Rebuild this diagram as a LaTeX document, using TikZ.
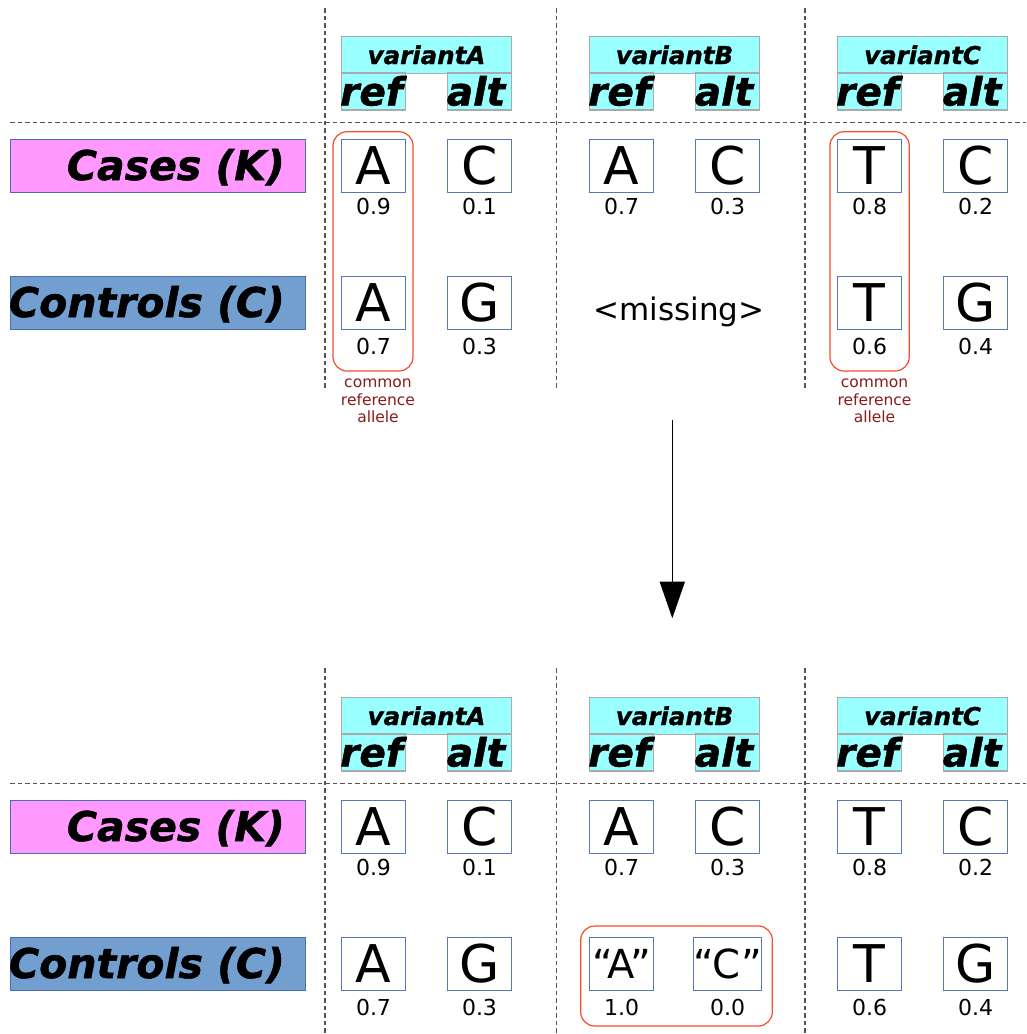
\documentclass[tikz,border=0pt]{standalone}
\usepackage{fontspec}
\setmainfont{DejaVu Sans}
\newfontfamily\heavyfam{DejaVu Sans}[FakeBold=1.2]
\usetikzlibrary{arrows.meta}
\definecolor{hdrcyan}{HTML}{99FFFF}
\definecolor{hdrgray}{HTML}{AAAAAA}
\definecolor{casepink}{HTML}{FF99FF}
\definecolor{ctrlblue}{HTML}{729FCF}
\definecolor{lblborder}{HTML}{4A6FB0}
\definecolor{boxblue}{HTML}{5577BB}
\definecolor{redc}{HTML}{F54C2C}
\definecolor{notered}{HTML}{8B1A1A}
\definecolor{dashgray}{HTML}{555555}
\tikzset{
 divider/.style={draw=dashgray, line width=1.2pt, dash pattern=on 4.5pt off 3pt},
 hdrbox/.style={draw=hdrgray, fill=hdrcyan, line width=1.2pt, inner sep=0pt},
 varfont/.style={font=\heavyfam\bfseries\itshape\fontsize{24.5}{24.5}\selectfont, inner sep=0pt, anchor=base},
 hdrtext/.style={font=\heavyfam\bfseries\itshape\fontsize{39}{39}\selectfont, inner sep=0pt, anchor=base},
 grptext/.style={font=\heavyfam\bfseries\itshape\fontsize{41}{41}\selectfont, inner sep=0pt, anchor=base east},
 grpbox/.style={draw=lblborder, line width=1pt, minimum width=295pt, minimum height=53pt, inner sep=0pt},
 letterbox/.style={draw=boxblue, fill=white, line width=1pt, minimum width=64pt, minimum height=53pt, inner sep=0pt, font=\fontsize{52}{52}\selectfont},
 quotebox/.style={letterbox, font=\fontsize{40}{40}\selectfont},
 freq/.style={font=\fontsize{22}{22}\selectfont, inner sep=0pt},
 redbox/.style={draw=redc, line width=1.2pt, rounded corners=14pt, inner sep=0pt},
 note/.style={font=\fontsize{15.5}{17.5}\selectfont, text=notered, align=center, inner sep=0pt},
 arrowline/.style={draw=black, line width=1.5pt, -{Triangle[width=25pt,length=36.6pt]}},
}
\newcommand\drawpanel[4]{%
 \begin{scope}[shift={(0,#2)}]
  \coordinate (#1-hl) at (10,122.7);
  \coordinate (#1-hr) at (1026,122.7);
  \draw[divider] (#1-hl) -- (#1-hr);
  \foreach \xx [count=\ii] in {325,556.7,805}{
   \coordinate (#1-v\ii a) at (\xx,#3);
   \coordinate (#1-v\ii b) at (\xx,#4);
   \draw[divider] (#1-v\ii a) -- (#1-v\ii b);
  }
  \foreach \vv/\rx in {A/373.5,B/621.5,C/869.5}{
   \node[hdrbox, minimum width=170pt, minimum height=36.5pt] (#1-var\vv) at (\rx+53,55) {};
   \node[varfont] (#1-var\vv t) at (\rx+53,64) {variant\vv};
   \node[hdrbox, minimum width=64pt, minimum height=37pt] (#1-ref\vv) at (\rx,91.5) {};
   \node[hdrbox, minimum width=64pt, minimum height=37pt] (#1-alt\vv) at (\rx+106,91.5) {};
   \node[hdrtext] (#1-ref\vv t) at (\rx-2,105.5) {ref};
   \node[hdrtext] (#1-alt\vv t) at (\rx+102.5,105.5) {alt};
  }
  \node[grpbox, fill=casepink] (#1-casesbox) at (157.5,165.8) {};
  \node[grptext] (#1-cases) at (285,180) {Cases (K)};
  \node[grpbox, fill=ctrlblue] (#1-ctrlbox) at (157.5,303) {};
  \node[grptext] (#1-ctrl) at (285,317) {Controls (C)};
  \foreach \vv/\rx/\refl/\altl/\fref/\falt in {A/373.5/A/C/0.9/0.1, B/621.5/A/C/0.7/0.3, C/869.5/T/C/0.8/0.2}{
   \node[letterbox] (#1-k\vv r) at (\rx,165.8) {\refl};
   \node[letterbox] (#1-k\vv a) at (\rx+106,165.8) {\altl};
   \node[freq] (#1-k\vv rf) at (\rx,206.5) {\fref};
   \node[freq] (#1-k\vv af) at (\rx+106,206.5) {\falt};
  }
  \foreach \vv/\rx/\refl/\altl/\fref/\falt in {A/373.5/A/G/0.7/0.3, C/869.5/T/G/0.6/0.4}{
   \node[letterbox] (#1-c\vv r) at (\rx,303) {\refl};
   \node[letterbox] (#1-c\vv a) at (\rx+106,303) {\altl};
   \node[freq] (#1-c\vv rf) at (\rx,346.5) {\fref};
   \node[freq] (#1-c\vv af) at (\rx+106,346.5) {\falt};
  }
 \end{scope}}
\begin{document}
\begin{tikzpicture}[x=1pt,y=-1pt]
 \useasboundingbox (0,0) rectangle (1026,1034);
 \drawpanel{t}{0}{8}{388}
 \drawpanel{b}{661}{7}{373}
 % top panel extras
 \node[redbox, minimum width=80pt, minimum height=239.3pt] (t-redA) at (373,251.35) {};
 \node[redbox, minimum width=79.3pt, minimum height=239.3pt] (t-redC) at (869.6,251.35) {};
 \node[note] (t-noteA) at (378,401.2) {common\\reference\\allele};
 \node[note] (t-noteC) at (874.5,401.2) {common\\reference\\allele};
 \node[font=\fontsize{31}{31}\selectfont, inner sep=0pt, anchor=base] (t-missing) at (679,320) {<missing>};
 % arrow
 \coordinate (arrTop) at (672.3,420);
 \coordinate (arrTip) at (672.3,618.3);
 \draw[arrowline] (arrTop) -- (arrTip);
 % bottom panel extras
 \node[quotebox] (b-cBr) at (621.5,964) {“A”};
 \node[quotebox] (b-cBa) at (727.5,964) {“C”};
 \node[freq] (b-cBrf) at (621.5,1007.5) {1.0};
 \node[freq] (b-cBaf) at (727.5,1007.5) {0.0};
 \node[redbox, minimum width=191.6pt, minimum height=100pt] (b-redB) at (676.5,976) {};
\end{tikzpicture}
\end{document}
